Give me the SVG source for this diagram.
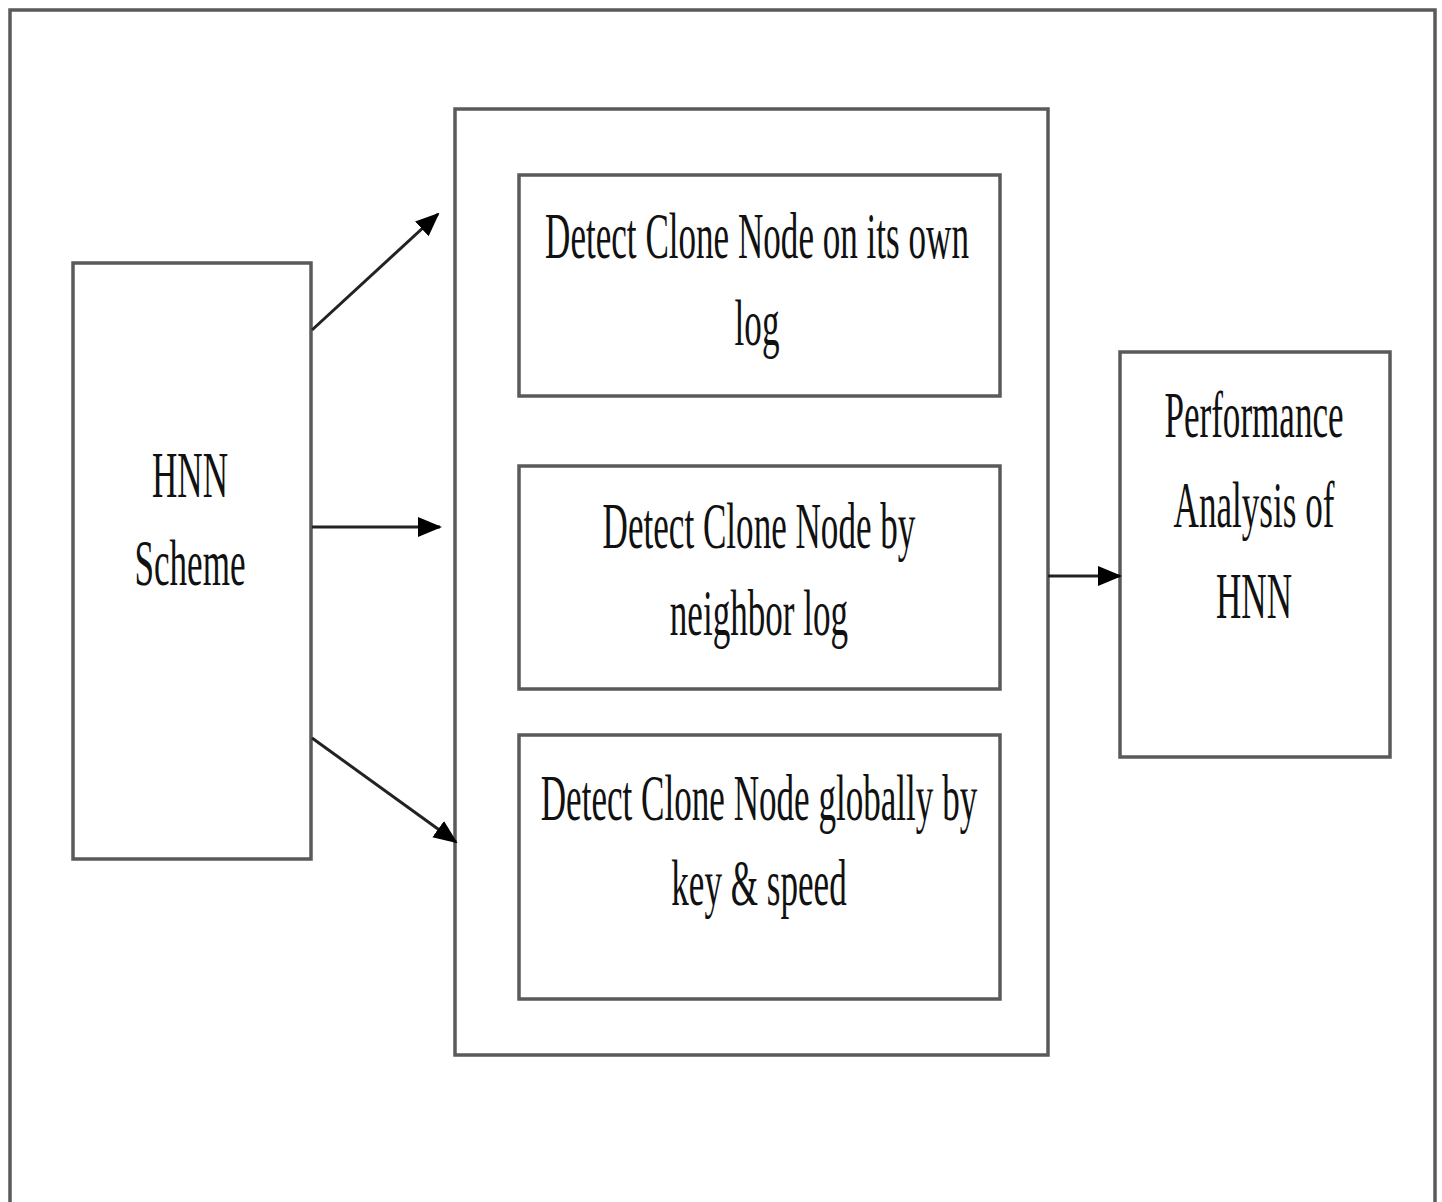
<svg xmlns="http://www.w3.org/2000/svg" width="1442" height="1202" viewBox="0 0 1442 1202">
<style>
.box{fill:#fff;stroke:#5a5a5a;stroke-width:3.5}
.lbl{font-family:"Liberation Serif","Times New Roman",serif;font-size:65px;fill:#111;text-anchor:middle}
.conn{stroke:#222;stroke-width:3;fill:none}
</style>
<defs>
<marker id="ah" markerUnits="userSpaceOnUse" markerWidth="24" markerHeight="24" viewBox="0 0 24 24" refX="22" refY="12" orient="auto">
<path d="M0,2 L24,12 L0,22 Z" fill="#000"/>
</marker>
</defs>
<rect x="0" y="0" width="1442" height="1202" fill="#fff"/>
<g id="frame"><rect class="box" x="10" y="10" width="1425" height="1195"/></g>
<g id="hnn-scheme">
<rect class="box" x="73" y="263" width="238" height="596"/>
<text class="lbl" transform="translate(190,497) scale(0.54,1)">HNN</text>
<text class="lbl" transform="translate(190,585) scale(0.54,1)">Scheme</text>
</g>
<g id="detect-group"><rect class="box" x="455" y="109" width="593" height="946"/></g>
<g id="detect-own">
<rect class="box" x="519" y="175" width="481" height="221"/>
<text class="lbl" transform="translate(757,258) scale(0.54,1)">Detect Clone Node on its own</text>
<text class="lbl" transform="translate(757,345) scale(0.54,1)">log</text>
</g>
<g id="detect-neighbor">
<rect class="box" x="519" y="466" width="481" height="223"/>
<text class="lbl" transform="translate(759,548) scale(0.54,1)">Detect Clone Node by</text>
<text class="lbl" transform="translate(759,635) scale(0.54,1)">neighbor log</text>
</g>
<g id="detect-global">
<rect class="box" x="519" y="735" width="481" height="264"/>
<text class="lbl" transform="translate(759,820) scale(0.54,1)">Detect Clone Node globally by</text>
<text class="lbl" transform="translate(759,905) scale(0.54,1)">key &amp; speed</text>
</g>
<g id="performance">
<rect class="box" x="1120" y="352" width="270" height="405"/>
<text class="lbl" transform="translate(1254,437) scale(0.54,1)">Performance</text>
<text class="lbl" transform="translate(1254,527) scale(0.54,1)">Analysis of</text>
<text class="lbl" transform="translate(1254,618) scale(0.54,1)">HNN</text>
</g>
<g id="connectors">
<line class="conn" x1="312" y1="330" x2="438" y2="214" marker-end="url(#ah)"/>
<line class="conn" x1="312" y1="527" x2="440" y2="527" marker-end="url(#ah)"/>
<line class="conn" x1="312" y1="738" x2="456" y2="842" marker-end="url(#ah)"/>
<line class="conn" x1="1048" y1="576" x2="1120" y2="576" marker-end="url(#ah)"/>
</g>
</svg>
